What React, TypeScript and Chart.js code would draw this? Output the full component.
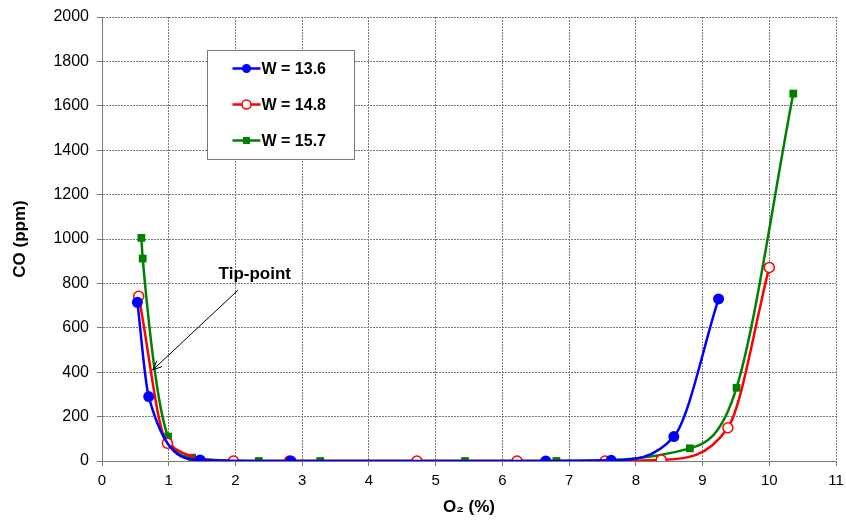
import React, { useEffect, useRef } from 'react';
import { Chart, registerables } from 'chart.js';

Chart.register(...registerables);

// ---- Data ----
const seriesLabels = ['W = 13.6', 'W = 14.8', 'W = 15.7'];

const w136X = [0.53, 0.70, 1.47, 2.83, 6.65, 7.63, 8.57, 9.24];
const w136Y = [715, 290, 5, 0, 0, 3, 110, 730];

const w148X = [0.55, 0.98, 1.97, 2.81, 4.72, 6.22, 7.54, 8.38, 9.38, 10.0];
const w148Y = [742, 80, 0, 0, 0, 0, 0, 5, 150, 872];

const w157X = [0.59, 0.61, 0.99, 1.35, 2.35, 3.27, 5.44, 6.81, 8.81, 9.51, 10.36];
const w157Y = [1005, 912, 110, 15, 0, 0, 0, 0, 57, 330, 1655];

const xTickValues = [0, 1, 2, 3, 4, 5, 6, 7, 8, 9, 10, 11];
const yTickValues = [0, 200, 400, 600, 800, 1000, 1200, 1400, 1600, 1800, 2000];

const xTitle = 'O\u2082 (%)';
const yTitle = 'CO (ppm)';

const tipLabel = 'Tip-point';
// annotation anchor points in data units: [x, y]
const tipTextAt = [2.29, 820];
const tipArrowFrom = [2.04, 770];
const tipArrowTo = [0.76, 410];

const FONT = '"Liberation Sans", Arial, Helvetica, sans-serif';

const toPoints = (xs: number[], ys: number[]) => xs.map((x, i) => ({ x, y: ys[i] }));

const colors = ['#0000ff', '#ff0000', '#008000'];

const overlayPlugin = {
  id: 'overlay',
  afterDraw(chart: any) {
    const { ctx, chartArea, scales } = chart;
    const xs = scales.x;
    const ys = scales.y;
    ctx.save();

    // ---- Legend box ----
    const bx = chartArea.left + 105.5;
    const by = chartArea.top + 33.5;
    const bw = 147;
    const bh = 109;
    ctx.fillStyle = '#ffffff';
    ctx.fillRect(bx, by, bw, bh);
    ctx.strokeStyle = '#7a7a7a';
    ctx.lineWidth = 1;
    ctx.strokeRect(bx, by, bw, bh);

    seriesLabels.forEach((label, i) => {
      const cy = by + 18 + i * 36;
      const lx0 = bx + 25;
      const lx1 = bx + 53;
      const mx = (lx0 + lx1) / 2;
      ctx.strokeStyle = colors[i];
      ctx.lineWidth = 2.5;
      ctx.beginPath();
      ctx.moveTo(lx0, cy);
      ctx.lineTo(lx1, cy);
      ctx.stroke();
      if (i === 0) {
        ctx.fillStyle = colors[0];
        ctx.beginPath();
        ctx.arc(mx, cy, 4.5, 0, Math.PI * 2);
        ctx.fill();
      } else if (i === 1) {
        ctx.fillStyle = '#ffffff';
        ctx.strokeStyle = colors[1];
        ctx.lineWidth = 1.5;
        ctx.beginPath();
        ctx.arc(mx, cy, 4.5, 0, Math.PI * 2);
        ctx.fill();
        ctx.stroke();
      } else {
        ctx.fillStyle = colors[2];
        ctx.fillRect(mx - 3.5, cy - 3.5, 7, 7);
      }
      ctx.fillStyle = '#000000';
      ctx.font = `bold 16px ${FONT}`;
      ctx.textAlign = 'left';
      ctx.textBaseline = 'middle';
      ctx.fillText(label, lx1 + 1, cy + 1);
    });

    // ---- Tip-point annotation ----
    const tx = xs.getPixelForValue(tipTextAt[0]);
    const ty = ys.getPixelForValue(tipTextAt[1]);
    ctx.fillStyle = '#000000';
    ctx.font = `bold 17px ${FONT}`;
    ctx.textAlign = 'center';
    ctx.textBaseline = 'alphabetic';
    ctx.fillText(tipLabel, tx, ty);

    const ax0 = xs.getPixelForValue(tipArrowFrom[0]);
    const ay0 = ys.getPixelForValue(tipArrowFrom[1]);
    const ax1 = xs.getPixelForValue(tipArrowTo[0]);
    const ay1 = ys.getPixelForValue(tipArrowTo[1]);
    ctx.strokeStyle = '#000000';
    ctx.lineWidth = 1;
    ctx.beginPath();
    ctx.moveTo(ax0, ay0);
    ctx.lineTo(ax1, ay1);
    ctx.stroke();
    const ang = Math.atan2(ay1 - ay0, ax1 - ax0);
    const hl = 10;
    const spread = 0.4;
    ctx.beginPath();
    ctx.moveTo(ax1 - hl * Math.cos(ang - spread), ay1 - hl * Math.sin(ang - spread));
    ctx.lineTo(ax1, ay1);
    ctx.lineTo(ax1 - hl * Math.cos(ang + spread), ay1 - hl * Math.sin(ang + spread));
    ctx.stroke();

    ctx.restore();
  },
};

export default function App() {
  const canvasRef = useRef<HTMLCanvasElement | null>(null);

  useEffect(() => {
    document.body.style.margin = '0';
    const canvas = canvasRef.current;
    if (!canvas) return;

    const chart = new Chart(canvas, {
      type: 'scatter',
      data: {
        datasets: [
          {
            label: seriesLabels[0],
            data: toPoints(w136X, w136Y),
            showLine: true,
            cubicInterpolationMode: 'monotone',
            borderColor: colors[0],
            backgroundColor: colors[0],
            borderWidth: 2.5,
            pointStyle: 'circle',
            pointRadius: 5.5,
            pointBorderWidth: 0,
            pointBackgroundColor: colors[0],
          },
          {
            label: seriesLabels[1],
            data: toPoints(w148X, w148Y),
            showLine: true,
            cubicInterpolationMode: 'monotone',
            borderColor: colors[1],
            backgroundColor: '#ffffff',
            borderWidth: 2.5,
            pointStyle: 'circle',
            pointRadius: 5,
            pointBorderWidth: 1.5,
            pointBorderColor: colors[1],
            pointBackgroundColor: '#ffffff',
          },
          {
            label: seriesLabels[2],
            data: toPoints(w157X, w157Y),
            showLine: true,
            cubicInterpolationMode: 'monotone',
            borderColor: colors[2],
            backgroundColor: colors[2],
            borderWidth: 2.5,
            pointStyle: 'rect',
            pointRadius: 5.5,
            pointBorderWidth: 0,
            pointBackgroundColor: colors[2],
          },
        ],
      },
      options: {
        responsive: false,
        animation: false,
        devicePixelRatio: 1,
        layout: { padding: { top: 17, right: 10, left: 0, bottom: 0 } },
        plugins: {
          legend: { display: false },
          tooltip: { enabled: false },
        },
        scales: {
          x: {
            type: 'linear',
            min: 0,
            max: 11,
            afterBuildTicks: (s: any) => {
              s.ticks = xTickValues.map((v) => ({ value: v }));
            },
            afterFit: (s: any) => {
              s.height = 67;
              s.paddingRight = 0;
              s.paddingLeft = 0;
            },
            ticks: {
              color: '#000000',
              font: { family: FONT, size: 15 },
              padding: 6,
              maxRotation: 0,
              callback: (v: any) => String(v),
            },
            grid: {
              color: '#7a7a7a',
              lineWidth: 1,
              drawTicks: true,
              tickLength: 5,
              tickColor: '#7a7a7a',
            },
            border: { display: true, color: '#7a7a7a', width: 1, dash: [2, 1] },
            title: {
              display: true,
              text: xTitle,
              color: '#000000',
              font: { family: FONT, size: 17, weight: 'bold' },
              padding: { top: 0, bottom: 10 },
            },
          },
          y: {
            type: 'linear',
            min: 0,
            max: 2000,
            afterBuildTicks: (s: any) => {
              s.ticks = yTickValues.map((v) => ({ value: v }));
            },
            afterFit: (s: any) => {
              s.width = 102;
              s.paddingTop = 0;
              s.paddingBottom = 0;
            },
            ticks: {
              color: '#000000',
              font: { family: FONT, size: 16 },
              padding: 8,
              callback: (v: any) => String(v),
            },
            grid: {
              color: '#7a7a7a',
              lineWidth: 1,
              drawTicks: true,
              tickLength: 5,
              tickColor: '#7a7a7a',
            },
            border: { display: true, color: '#7a7a7a', width: 1, dash: [2, 1] },
            title: {
              display: true,
              text: yTitle,
              color: '#000000',
              font: { family: FONT, size: 17, weight: 'bold' },
              padding: { top: 10, bottom: 0 },
            },
          },
        },
      },
      plugins: [overlayPlugin],
    } as any);

    return () => {
      chart.destroy();
    };
  }, []);

  return (
    <div style={{ position: 'absolute', left: 0, top: 0, width: 846, height: 528 }}>
      <canvas ref={canvasRef} width={846} height={528} style={{ display: 'block' }} />
    </div>
  );
}
